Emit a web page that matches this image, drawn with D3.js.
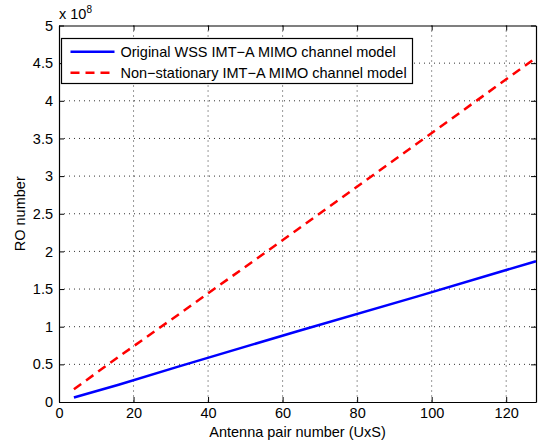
<!DOCTYPE html>
<html>
<head>
<meta charset="utf-8">
<script src="https://cdn.jsdelivr.net/npm/d3@7"></script>
<style>
  body { margin: 0; background: #fff; }
  text { font-family: "Liberation Sans", Arial, Helvetica, sans-serif; fill: #000; }
</style>
</head>
<body>
<div id="chart"></div>
<script>
// values (y in units of 1e8)
var antennaPairs = [4, 16, 32, 64, 96, 128];
var wssValues = [0.06, 0.23, 0.47, 0.94, 1.40, 1.87];
var nonStatValues = [0.17, 0.60, 1.16, 2.29, 3.43, 4.57];
var xTicks = [0, 20, 40, 60, 80, 100, 120];
var yTicks = [0, 0.5, 1, 1.5, 2, 2.5, 3, 3.5, 4, 4.5, 5];
var seriesNames = ["Original WSS IMT\u2212A MIMO channel model", "Non\u2212stationary IMT\u2212A MIMO channel model"];

var w = 543, h = 443;
var plotL = 59, plotR = 536, plotT = 25.5, plotB = 402;
var fontSize = "14.5px";

var svg = d3.select("#chart").append("svg")
    .attr("width", w)
    .attr("height", h);

var x = d3.scaleLinear().domain([0, 128]).range([plotL, plotR]);
var y = d3.scaleLinear().domain([0, 5]).range([plotB, plotT]);

//grid lines
var grid = svg.append("g").attr("class", "grid");
grid.selectAll("line.gx")
    .data(xTicks.slice(1))
    .enter().append("line")
    .attr("x1", function (d) { return x(d); })
    .attr("x2", function (d) { return x(d); })
    .attr("y1", plotT)
    .attr("y2", plotB)
    .attr("stroke", "#333")
    .attr("stroke-width", 1)
    .attr("stroke-dasharray", "1,4");
grid.selectAll("line.gy")
    .data(yTicks.slice(1, -1))
    .enter().append("line")
    .attr("x1", plotL)
    .attr("x2", plotR)
    .attr("y1", function (d) { return y(d); })
    .attr("y2", function (d) { return y(d); })
    .attr("stroke", "#333")
    .attr("stroke-width", 1)
    .attr("stroke-dasharray", "1,4");

//axes, ticks inside on all four sides
var axes = [
    { a: d3.axisBottom(x).tickValues(xTicks), t: "translate(0," + plotB + ")", label: true },
    { a: d3.axisTop(x).tickValues(xTicks), t: "translate(0," + plotT + ")", label: false },
    { a: d3.axisLeft(y).tickValues(yTicks).tickFormat(d3.format("")), t: "translate(" + plotL + ",0)", label: true },
    { a: d3.axisRight(y).tickValues(yTicks), t: "translate(" + plotR + ",0)", label: false }
];
axes.forEach(function (ax) {
    var g = svg.append("g")
        .attr("transform", ax.t)
        .call(ax.a.tickSizeInner(-5).tickSizeOuter(0).tickPadding(6));
    g.select(".domain").attr("stroke", "#000").attr("stroke-width", 1.2);
    g.selectAll(".tick line").attr("stroke", "#000");
    g.selectAll(".tick text")
        .style("font-size", fontSize)
        .style("font-family", "'Liberation Sans', Arial, sans-serif")
        .attr("fill", "#000");
    if (!ax.label) g.selectAll(".tick text").remove();
});

//axis labels
svg.append("text")
    .attr("x", (plotL + plotR) / 2)
    .attr("y", 437)
    .attr("text-anchor", "middle")
    .style("font-size", fontSize)
    .text("Antenna pair number (UxS)");

svg.append("text")
    .attr("transform", "translate(25," + ((plotT + plotB) / 2) + ") rotate(-90)")
    .attr("text-anchor", "middle")
    .style("font-size", fontSize)
    .text("RO number");

//exponent label
var expo = svg.append("text")
    .attr("x", plotL)
    .attr("y", 19)
    .style("font-size", fontSize);
expo.append("tspan").text("x 10");
expo.append("tspan").attr("dy", -6).style("font-size", "10px").text("8");

//lines
var line = d3.line()
    .x(function (d) { return x(d[0]); })
    .y(function (d) { return y(d[1]); });

svg.append("path")
    .datum(d3.zip(antennaPairs, wssValues))
    .attr("d", line)
    .attr("fill", "none")
    .attr("stroke", "#0000ff")
    .attr("stroke-width", 2.5);

svg.append("path")
    .datum(d3.zip(antennaPairs, nonStatValues))
    .attr("d", line)
    .attr("fill", "none")
    .attr("stroke", "#ff0000")
    .attr("stroke-width", 2.5)
    .attr("stroke-dasharray", "9,6");

//legend
var legend = svg.append("g");
legend.append("rect")
    .attr("x", 61.5)
    .attr("y", 38.5)
    .attr("width", 351)
    .attr("height", 45)
    .attr("fill", "#fff")
    .attr("stroke", "#000")
    .attr("stroke-width", 1.2);

var styles = [
    { color: "#0000ff", dash: null },
    { color: "#ff0000", dash: "9,6" }
];
seriesNames.forEach(function (name, i) {
    var ly = 51.7 + i * 21;
    legend.append("line")
        .attr("x1", 70.5)
        .attr("x2", 114.5)
        .attr("y1", ly)
        .attr("y2", ly)
        .attr("stroke", styles[i].color)
        .attr("stroke-width", 2.5)
        .attr("stroke-dasharray", styles[i].dash);
    legend.append("text")
        .attr("x", 120.5)
        .attr("y", ly + 5)
        .style("font-size", fontSize)
        .text(name);
});
</script>
</body>
</html>
